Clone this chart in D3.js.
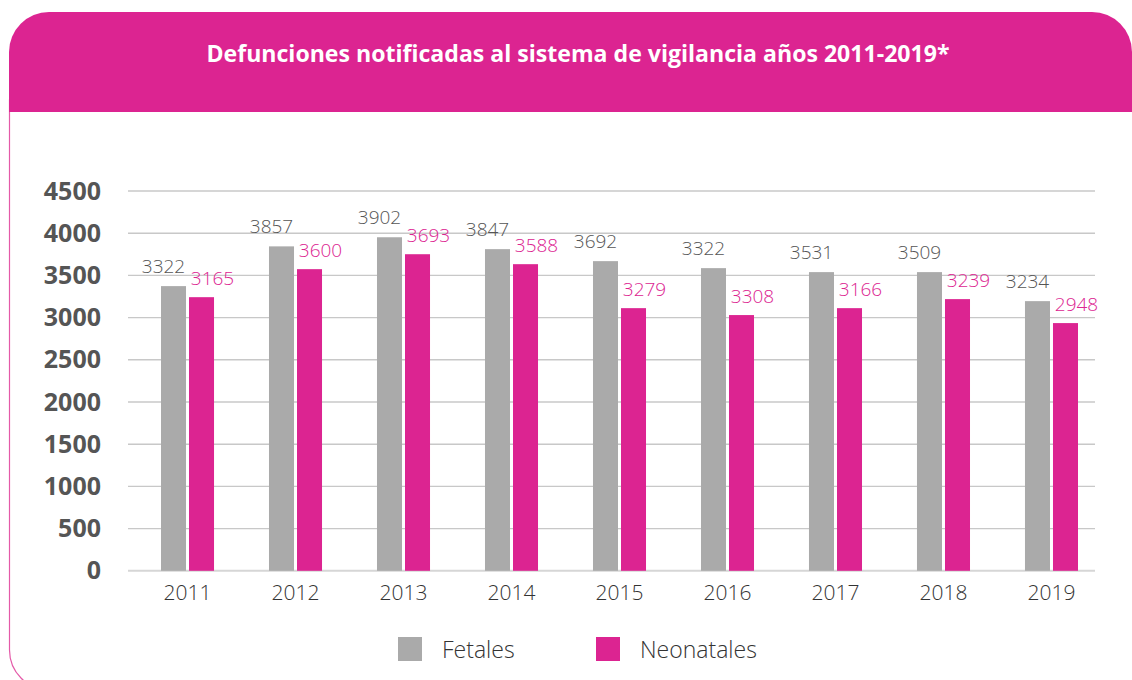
<!doctype html>
<html lang="es">
<head>
<meta charset="utf-8">
<title>Defunciones notificadas</title>
<script src="https://cdn.jsdelivr.net/npm/d3@7"></script>
<style>
  body { margin: 0; background: #fff; }
  svg { display: block; font-family: "Open Sans", sans-serif; }
</style>
</head>
<body>
<div id="chart"></div>
<script>
// data
var years = ["2011", "2012", "2013", "2014", "2015", "2016", "2017", "2018", "2019"];
var series = ["Fetales", "Neonatales"];
// bar heights as drawn
var fetales = [3373, 3844, 3952, 3811, 3669, 3586, 3539, 3539, 3195];
var neonatales = [3242, 3574, 3751, 3633, 3112, 3030, 3112, 3219, 2935];
// printed labels
var fetalesLabels = ["3322", "3857", "3902", "3847", "3692", "3322", "3531", "3509", "3234"];
var neonatalesLabels = ["3165", "3600", "3693", "3588", "3279", "3308", "3166", "3239", "2948"];
var yTicks = [0, 500, 1000, 1500, 2000, 2500, 3000, 3500, 4000, 4500];

var pink = "#dc2491", grey = "#aaaaaa";
var W = 1132, H = 680;

var svg = d3.select("#chart").append("svg").attr("width", W).attr("height", H);

// frame
svg.append("rect").attr("x", 9.5).attr("y", 60).attr("width", 1160).attr("height", 630)
  .attr("rx", 40).attr("fill", "#fff").attr("stroke", "#e45aa8").attr("stroke-width", 1.2);
svg.append("path")
  .attr("d", "M9,112 L9,52 A40,40 0 0 1 49,12 L1092,12 A40,40 0 0 1 1132,52 L1132,112 Z")
  .attr("fill", pink);
svg.append("text").attr("x", 578).attr("y", 62).attr("text-anchor", "middle")
  .attr("fill", "#fff").attr("font-size", 23).attr("font-weight", 700)
  .attr("textLength", 743).attr("lengthAdjust", "spacingAndGlyphs")
  .text("Defunciones notificadas al sistema de vigilancia años 2011-2019*");

var x0 = d3.scaleBand().domain(years).range([133.5, 1105.5]).paddingInner(0.509).paddingOuter(0.2546);
var x1 = d3.scaleBand().domain(series).range([0, x0.bandwidth()]).paddingInner(0.107);
var y = d3.scaleLinear().domain([0, 4500]).range([570.8, 191]);

// grid
svg.append("g").selectAll("line").data(yTicks).join("line")
  .attr("x1", 128).attr("x2", 1095)
  .attr("y1", function (d) { return y(d); }).attr("y2", function (d) { return y(d); })
  .attr("stroke", function (d) { return d === 0 ? "#d6d6d6" : "#c8c8c8"; })
  .attr("stroke-width", function (d) { return d === 0 ? 2 : 1.4; });

// y axis
var yAxis = svg.append("g").attr("transform", "translate(101,0)")
  .call(d3.axisLeft(y).tickValues(yTicks).tickFormat(d3.format("d")).tickSize(0).tickPadding(0));
yAxis.select(".domain").remove();
yAxis.selectAll("text").attr("font-family", "Open Sans, sans-serif").attr("font-size", 25)
  .attr("font-weight", 700).attr("fill", "#555");

// x axis
var xAxis = svg.append("g").attr("transform", "translate(0,580)")
  .call(d3.axisBottom(x0).tickSize(0).tickPadding(0));
xAxis.select(".domain").remove();
xAxis.selectAll("text").attr("font-family", "Open Sans, sans-serif").attr("font-size", 21)
  .attr("font-weight", 300).attr("fill", "#333").attr("dy", "0.95em");

var rows = years.map(function (yr, i) {
  return [
    { year: yr, key: "Fetales", v: fetales[i], label: fetalesLabels[i] },
    { year: yr, key: "Neonatales", v: neonatales[i], label: neonatalesLabels[i] }
  ];
});

var groups = svg.append("g").selectAll("g").data(rows).join("g")
  .attr("transform", function (d) { return "translate(" + x0(d[0].year) + ",0)"; });

groups.selectAll("rect").data(function (d) { return d; }).join("rect")
  .attr("x", function (d) { return x1(d.key); })
  .attr("y", function (d) { return y(d.v); })
  .attr("width", x1.bandwidth())
  .attr("height", function (d) { return y(0) - y(d.v); })
  .attr("fill", function (d) { return d.key === "Fetales" ? grey : pink; });

groups.selectAll("text").data(function (d) { return d; }).join("text")
  .attr("x", function (d) { return x1(d.key) + x1.bandwidth() / 2 + (d.key === "Fetales" ? -10 : 11); })
  .attr("y", function (d) { return y(d.v) - (d.key === "Fetales" ? 13 : 12); })
  .attr("text-anchor", "middle").attr("font-size", 19).attr("font-weight", 300)
  .attr("fill", function (d) { return d.key === "Fetales" ? "#555" : pink; })
  .text(function (d) { return d.label; });

// legend
var legX = [398, 596];
var leg = svg.append("g").selectAll("g").data(series).join("g")
  .attr("transform", function (d, i) { return "translate(" + legX[i] + ",637)"; });
leg.append("rect").attr("width", 24).attr("height", 24)
  .attr("fill", function (d, i) { return i === 0 ? grey : pink; });
leg.append("text").attr("x", 44).attr("y", 21).attr("font-size", 23).attr("font-weight", 300)
  .attr("fill", "#333").text(function (d) { return d; });
</script>
</body>
</html>
